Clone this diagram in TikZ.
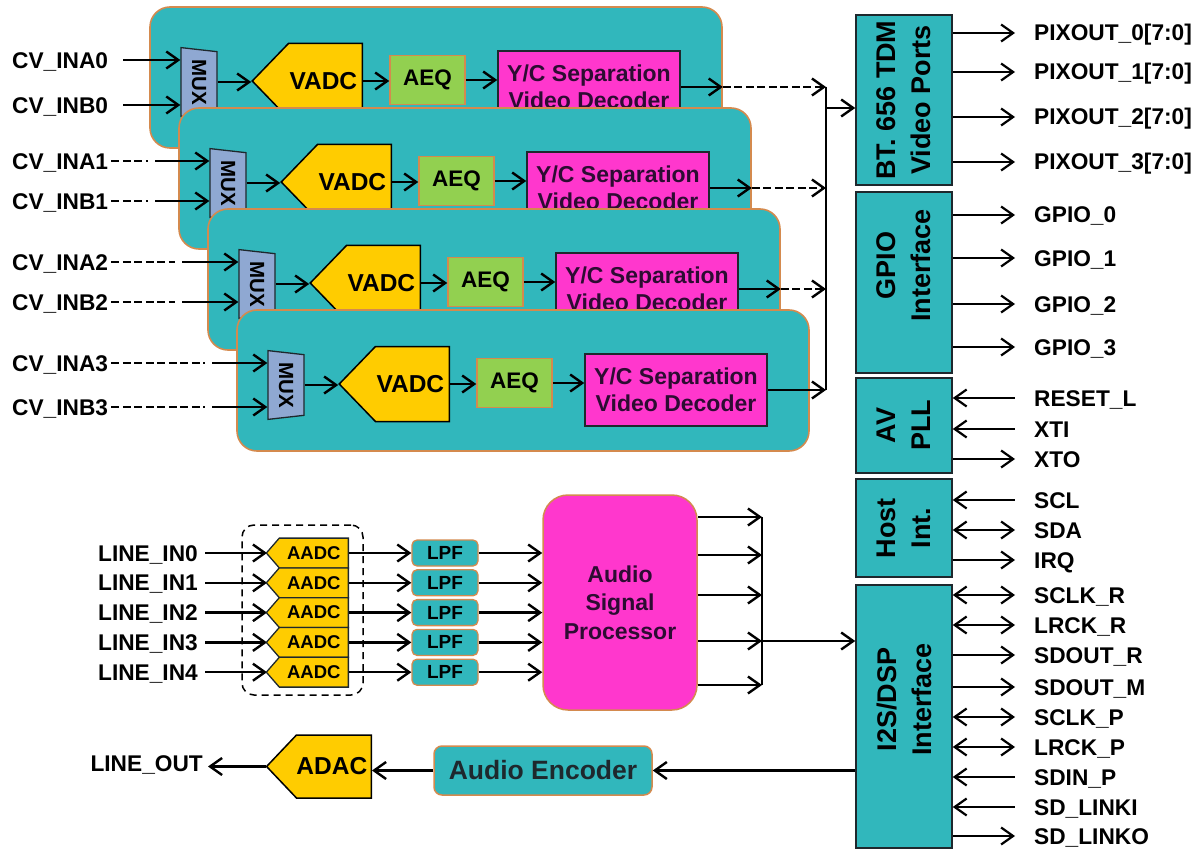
\documentclass[tikz,border=0pt]{standalone}
\usepackage{fontspec}
\setmainfont{Liberation Sans}
\usetikzlibrary{arrows.meta,shapes.geometric,shapes.symbols}
\definecolor{tealc}{RGB}{49,183,188}
\definecolor{orng}{RGB}{212,138,78}
\definecolor{magc}{RGB}{255,55,205}
\definecolor{yelc}{RGB}{255,204,0}
\definecolor{grnc}{RGB}{146,208,80}
\definecolor{muxc}{RGB}{143,168,210}
\definecolor{dpur}{RGB}{45,12,50}
\definecolor{edgec}{RGB}{30,40,45}
\newcommand\fsz[1]{\fontsize{#1}{#1}\selectfont\bfseries}
\newcommand\fsl[2]{\fontsize{#1}{#2}\selectfont\bfseries}
\tikzset{
  barb/.tip={Straight Barb[length=12pt,width=17pt]},
  arr/.style={line width=2.4pt,-barb},
  dsh/.style={dash pattern=on 8pt off 3.5pt},
  panel/.style={draw=orng,line width=1.6pt,fill=tealc,rounded corners=20pt,minimum width=572pt,minimum height=141pt,inner sep=0pt},
  muxs/.style={trapezium,trapezium left angle=78,trapezium right angle=78,trapezium stretches=true,draw=edgec,line width=1.3pt,fill=muxc,minimum width=69pt,minimum height=36pt,inner sep=0pt,rotate=-90,font=\fsz{20.5}},
  vadcs/.style={signal,signal to=west,signal pointer angle=92,draw=black,line width=1.5pt,fill=yelc,minimum width=110pt,minimum height=75pt,inner sep=0pt,anchor=east,font=\fsz{24.5}},
  aeqs/.style={draw=orng,line width=1.5pt,fill=grnc,minimum width=75pt,minimum height=49pt,inner sep=0pt,font=\fsz{22.5}},
  ycs/.style={draw=edgec,line width=1.5pt,fill=magc,minimum width=182pt,minimum height=72pt,inner sep=0pt,align=center,text=dpur,font=\fsl{23}{27}},
  rbox/.style={draw=edgec,line width=1.5pt,fill=tealc,minimum height=96pt,inner sep=0pt,rotate=90,align=center,font=\fsl{27}{35}},
  lbl/.style={font=\fsz{22.7},inner sep=0pt},
  aadcs/.style={signal,signal to=west,signal pointer angle=98,draw=edgec,line width=1.3pt,fill=yelc,minimum width=82pt,minimum height=29.8pt,inner sep=0pt,anchor=east,font=\fsz{18.5}},
  lpfs/.style={draw=orng,line width=1.3pt,fill=tealc,rounded corners=5pt,minimum width=66pt,minimum height=26pt,inner sep=0pt,font=\fsz{19}}
}
\begin{document}
\begin{tikzpicture}[x=1pt,y=-1pt]
\useasboundingbox (0,0) rectangle (1204,850);
\coordinate (bus) at (826,0);
% right boxes
\node[rbox,minimum width=170pt] (bt) at (904,100) {BT. 656 TDM\\Video Ports};
\node[rbox,minimum width=181pt] (gpio) at (904,282.5) {\hspace*{34pt}GPIO\\\hspace*{34pt}Interface};
\node[rbox,minimum width=95pt] (av) at (904,425.5) {AV\\PLL};
\node[rbox,minimum width=98pt] (host) at (904,528) {Host\\Int.};
\node[rbox,minimum width=263pt] (i2s) at (904,716.5) {\hspace*{34pt}I2S/DSP\\\hspace*{34pt}Interface};
% video channels
\foreach \k/\by/\xs in {0/105/123,1/201/155,2/302/182,3/407/212}{
  \pgfmathsetmacro\dx{29*\k}
  \pgfmathsetmacro\dy{101*\k}
  \pgfmathsetmacro\ay{60+\dy}
  \node[panel] (p\k) at (436+\dx,77.5+\dy) {};
  \node[muxs] (mux\k) at (199+\dx,82+\dy) {MUX};
  \node[vadcs] (vadc\k) at (363+\dx,81+\dy) {VADC\hspace*{4pt}};
  \node[aeqs] (aeq\k) at (427.5+\dx,80+\dy) {AEQ};
  \node[ycs] (yc\k) at (589+\dx,87+\dy) {Y/C Separation\\Video Decoder};
  \draw[arr] (mux\k.north) -- (mux\k.north -| vadc\k.west);
  \draw[arr] (vadc\k.east) -- (vadc\k.east -| aeq\k.west);
  \draw[arr] (aeq\k.east) -- (aeq\k.east -| yc\k.west);
  \ifnum\k<3
    \draw[arr] (yc\k.east) -- (yc\k.east -| p\k.east);
    \draw[arr,dsh] (yc\k.east -| p\k.east) -- (yc\k.east -| bus);
  \else
    \draw[arr] (yc\k.east) -- (yc\k.east -| bus);
  \fi
  \node[lbl,anchor=base west] (ina\k) at (12,\ay+8.5) {CV\_INA\k};
  \node[lbl,anchor=base west] (inb\k) at (12,\by+8.5) {CV\_INB\k};
  \coordinate (sa\k) at (\xs,\ay);
  \coordinate (sb\k) at (\xs,\by);
  \draw[arr] (sa\k) -- (sa\k -| mux\k.south);
  \draw[arr] (sb\k) -- (sb\k -| mux\k.south);
  \ifnum\k>0
    \coordinate (da\k) at ([xshift=3pt]ina\k.east);
    \coordinate (db\k) at ([xshift=3pt]inb\k.east);
    \coordinate (ea\k) at ([xshift=-7pt]sa\k);
    \coordinate (eb\k) at ([xshift=-7pt]sb\k);
    \draw[line width=2.4pt,dsh] (da\k |- sa\k) -- (ea\k);
    \draw[line width=2.4pt,dsh] (db\k |- sb\k) -- (eb\k);
  \fi
}
\draw[line width=2.4pt] (yc0.east -| bus) -- (yc3.east -| bus);
\coordinate (busout) at (826,108);
\draw[arr] (busout) -- (busout -| bt.north);
% right signals
\foreach \n/\lab/\y/\d [count=\i] in {
  bt/PIXOUT\_0[7:0]/33/-barb, bt/PIXOUT\_1[7:0]/72/-barb, bt/PIXOUT\_2[7:0]/117/-barb, bt/PIXOUT\_3[7:0]/162/-barb,
  gpio/GPIO\_0/215/-barb, gpio/GPIO\_1/258/-barb, gpio/GPIO\_2/304/-barb, gpio/GPIO\_3/347/-barb,
  av/RESET\_L/398/barb-, av/XTI/429/barb-, av/XTO/459/-barb,
  host/SCL/500/barb-, host/SDA/530/barb-barb, host/IRQ/560/-barb,
  i2s/SCLK\_R/595/barb-barb, i2s/LRCK\_R/625/barb-barb, i2s/SDOUT\_R/655/-barb, i2s/SDOUT\_M/687/-barb,
  i2s/SCLK\_P/717/barb-barb, i2s/LRCK\_P/747/barb-barb, i2s/SDIN\_P/777/barb-, i2s/SD\_LINKI/807/barb-, i2s/SD\_LINKO/836/-barb}{
  \coordinate (re\i) at (1015,\y);
  \node[lbl,anchor=base west] (rl\i) at (1034,\y+8) {\lab};
  \draw[line width=2.2pt,\d] (\n.south |- re\i) -- (re\i);
}
% audio
\node[draw,line width=1.5pt,dash pattern=on 7pt off 5pt,rounded corners=12pt,minimum width=121pt,minimum height=170pt] (grp) at (302.5,610) {};
\node[draw=orng,line width=1.5pt,fill=magc,rounded corners=25pt,minimum width=154pt,minimum height=215pt,inner sep=0pt,align=center,text=dpur,font=\fsl{23}{28.5}] (asp) at (620,602.5) {Audio\\Signal\\Processor};
\foreach \i in {0,...,4}{
  \pgfmathsetmacro\ry{553+29.8*\i}
  \coordinate (ls\i) at (205,\ry);
  \draw[arr] (ls\i) -- ++(62,0);
  \node[aadcs] (aadc\i) at (349,\ry) {AADC};
  \node[lpfs] (lpf\i) at (445,\ry) {LPF};
  \node[lbl,anchor=base east] (lin\i) at (198,\ry+8) {LINE\_IN\i};
  \draw[arr] (aadc\i.east) -- (lpf\i.west);
  \draw[arr] (lpf\i.east) -- (lpf\i.east -| asp.west);
}
\foreach \y [count=\j] in {517,555,595,641,685}{
  \coordinate (bar\j) at (762,\y);
  \draw[arr] (bar\j -| asp.east) -- (bar\j);
}
\draw[line width=2.4pt] (bar1) -- (bar5);
\draw[arr] (bar4) -- (bar4 -| i2s.north);
% bottom
\node[draw=orng,line width=1.5pt,fill=tealc,rounded corners=8pt,minimum width=218pt,minimum height=49pt,inner sep=0pt,text=edgec,font=\fsz{26.5}] (ae) at (543,770.5) {Audio Encoder};
\node[signal,signal to=west,signal pointer angle=93,draw=black,line width=1.5pt,fill=yelc,minimum width=102pt,minimum height=63pt,inner sep=0pt,anchor=east,font=\fsz{24.5}] (adac) at (372,766.5) {ADAC\hspace*{4pt}};
\draw[arr] (ae.east -| i2s.north) -- (ae.east);
\draw[arr] (ae.west) -- (ae.west -| adac.east);
\node[lbl,anchor=base east] (lout) at (203,771) {LINE\_OUT};
\coordinate (lo) at (208,766.5);
\draw[arr] (adac.west) -- (lo);
\end{tikzpicture}
\end{document}
